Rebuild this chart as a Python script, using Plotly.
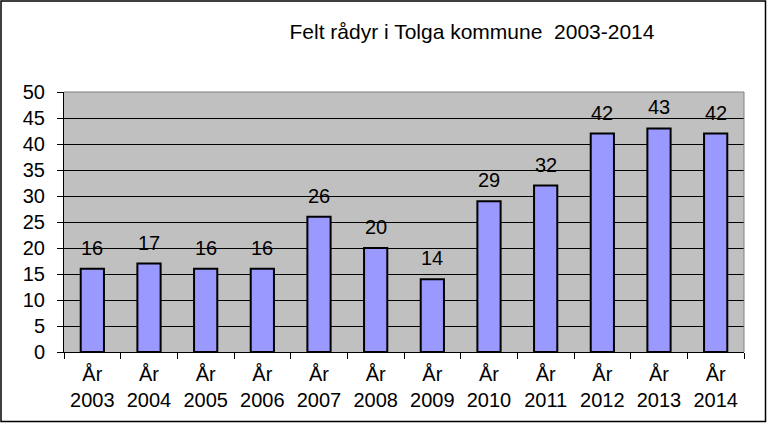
import plotly.graph_objects as go

years = ["2003", "2004", "2005", "2006", "2007", "2008", "2009", "2010", "2011", "2012", "2013", "2014"]
values = [16, 17, 16, 16, 26, 20, 14, 29, 32, 42, 43, 42]
categories = ["År<br>" + y for y in years]
title_text = "Felt rådyr i Tolga kommune  2003-2014"

W, H = 767, 423
L, R, T, B = 64, 23, 92, 71
pw, ph = W - L - R, H - T - B

FONT = "Liberation Sans, Arial, sans-serif"
fs = 20

fig = go.Figure(go.Bar(
    x=categories, y=values,
    marker=dict(color="#9999FF", line=dict(color="black", width=2)),
    hoverinfo="x+y",
))

for c, v in zip(categories, values):
    fig.add_annotation(x=c, y=v, text=str(v), showarrow=False, yanchor="bottom",
                       yshift=8, font=dict(size=fs, color="black", family=FONT))

def px_x(p):
    return (p - L) / pw

def px_y(p):
    return (H - B - p) / ph

fig.update_layout(
    width=W, height=H,
    margin=dict(l=L, r=R, t=T, b=B, pad=0),
    paper_bgcolor="white", plot_bgcolor="#C0C0C0",
    bargap=0.59,
    showlegend=False,
    font=dict(family=FONT, size=fs, color="black"),
    title=dict(text=title_text, x=472 / W, xanchor="center", xref="container",
               y=1 - 32 / H, yanchor="middle", yref="container",
               font=dict(size=21, color="black", family=FONT)),
    xaxis=dict(showline=True, linecolor="black", linewidth=1,
               ticks="outside", tickson="boundaries", ticklen=6, tickcolor="black",
               tickfont=dict(size=fs), showgrid=False, ticklabelstandoff=4),
    yaxis=dict(range=[0, 50], dtick=5, showline=True, linecolor="black", linewidth=1,
               ticks="outside", ticklen=6, tickcolor="black", tickfont=dict(size=fs),
               showgrid=True, gridcolor="black", gridwidth=1, zeroline=False,
               ticklabelstandoff=8),
    shapes=[
        dict(type="line", xref="paper", yref="paper", x0=0, x1=1, y0=1, y1=1,
             line=dict(color="#808080", width=1)),
        dict(type="line", xref="paper", yref="paper", x0=1, x1=1, y0=0, y1=1,
             line=dict(color="#808080", width=1)),
        dict(type="rect", xref="paper", yref="paper",
             x0=px_x(1), x1=px_x(W - 1.5), y0=px_y(H - 1.5), y1=px_y(1),
             line=dict(color="black", width=1.5), fillcolor="rgba(0,0,0,0)"),
    ],
)

fig.write_html("out.html")
